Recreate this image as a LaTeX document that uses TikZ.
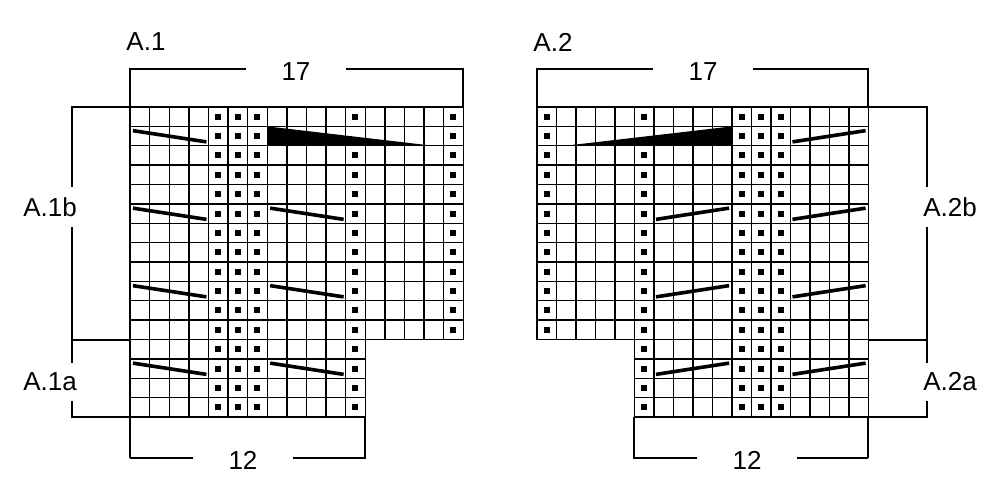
\documentclass[tikz,border=0pt]{standalone}
\usepackage{fontspec}
\setmainfont{Liberation Sans}
\usetikzlibrary{positioning}
\tikzset{lbl/.style={fill=white,inner sep=4pt,font=\fontsize{26}{26}\selectfont}}
\tikzset{hlbl/.style={lbl,inner xsep=36pt}}
\tikzset{vlbl/.style={lbl,inner xsep=2pt,inner ysep=10pt}}
\tikzset{dotsq/.style={fill=black,inner sep=0pt,minimum size=6pt}}
\tikzset{slash/.style={line width=3.6pt}}
\tikzset{gridline/.style={line width=1.4pt}}
\tikzset{brace/.style={line width=1.2pt}}
\newcommand{\knitdot}[2]{\node[dotsq] at (#1-0.5,#2-0.5) {};}
\begin{document}
\begin{tikzpicture}[x=1pt,y=-1pt]
\useasboundingbox (0,0) rectangle (1001,500);
% brackets of A.1
\draw[brace] (130,458) -- (130,69) -- (463,69) -- (463,107);
\draw[brace] (130,458) -- (365,458) -- (365,417);
\draw[brace] (130,107) -- (72,107) -- (72,340) -- (130,340);
\draw[brace] (72,340) -- (72,417) -- (130,417);
% brackets of A.2
\draw[brace] (868,458) -- (868,69) -- (537,69) -- (537,107);
\draw[brace] (868,458) -- (634,458) -- (634,417);
\draw[brace] (868,107) -- (927,107) -- (927,340) -- (868,340);
\draw[brace] (927,340) -- (927,417) -- (868,417);
% chart A.1
\begin{scope}[shift={(130,107)},x=19.6pt,y=-19.375pt]
  \fill[white] (0,0) rectangle (17,12) (0,12) rectangle (12,16);
  \foreach \r in {0,...,12} {\draw[gridline] (0,\r) -- (17,\r);}
  \foreach \r in {13,...,16} {\draw[gridline] (0,\r) -- (12,\r);}
  \foreach \c in {0,...,12} {\draw[gridline] (\c,0) -- (\c,16);}
  \foreach \c in {13,...,17} {\draw[gridline] (\c,0) -- (\c,12);}
  \foreach \r in {1,...,16} {\foreach \c in {5,6,7} {\knitdot{\c}{\r}}}
  \foreach \r in {1,3,4,...,16} {\knitdot{12}{\r}}
  \foreach \r in {1,...,12} {\knitdot{17}{\r}}
  \foreach \r in {2,6,10,14} {\draw[slash] (0.15,\r-0.78) -- (3.9,\r-0.2);}
  \foreach \r in {6,10,14} {\draw[slash] (7.15,\r-0.78) -- (10.9,\r-0.2);}
  \fill (7,1) -- (7,2) -- (15.45,2) -- cycle;
\end{scope}
% chart A.2
\begin{scope}[shift={(537,107)},x=19.5pt,y=-19.375pt]
  \fill[white] (0,0) rectangle (17,12) (5,12) rectangle (17,16);
  \foreach \r in {0,...,12} {\draw[gridline] (0,\r) -- (17,\r);}
  \foreach \r in {13,...,16} {\draw[gridline] (5,\r) -- (17,\r);}
  \foreach \c in {0,...,4} {\draw[gridline] (\c,0) -- (\c,12);}
  \foreach \c in {5,...,17} {\draw[gridline] (\c,0) -- (\c,16);}
  \foreach \r in {1,...,16} {\foreach \c in {11,12,13} {\knitdot{\c}{\r}}}
  \foreach \r in {1,3,4,...,16} {\knitdot{6}{\r}}
  \foreach \r in {1,...,12} {\knitdot{1}{\r}}
  \foreach \r in {2,6,10,14} {\draw[slash] (13.1,\r-0.2) -- (16.85,\r-0.78);}
  \foreach \r in {6,10,14} {\draw[slash] (6.1,\r-0.2) -- (9.85,\r-0.78);}
  \fill (10,1) -- (10,2) -- (1.45,2) -- cycle;
\end{scope}
% labels
\node[lbl] (a1) at (146,42) {A.1};
\node[hlbl] (a1w) at (296,72) {17};
\node[hlbl] (a1n) at (243,460) {12};
\node[vlbl] (a1b) at (50,207) {A.1b};
\node[vlbl] (a1a) at (50,382) {A.1a};
\node[lbl] (a2) at (553,42) {A.2};
\node[hlbl] (a2w) at (703,72) {17};
\node[hlbl] (a2n) at (747,460) {12};
\node[vlbl] (a2b) at (950,207) {A.2b};
\node[vlbl] (a2a) at (950,382) {A.2a};
\end{tikzpicture}
\end{document}
